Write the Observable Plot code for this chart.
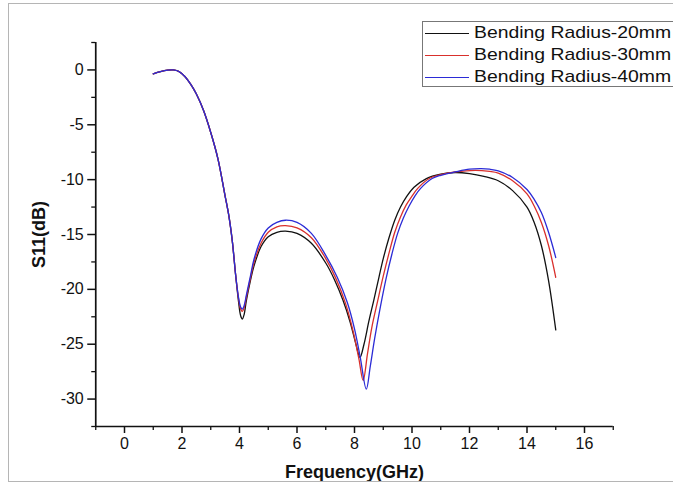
<!DOCTYPE html>
<html>
<head>
<meta charset="utf-8">
<script src="https://cdn.jsdelivr.net/npm/d3@7"></script>
<script src="https://cdn.jsdelivr.net/npm/@observablehq/plot@0.6"></script>
<style>
  html, body { margin: 0; padding: 0; background: #fff; }
  #wrap { position: relative; width: 673px; height: 484px; overflow: hidden; font-family: "Liberation Sans", Arial, sans-serif; }
  #border { position: absolute; left: 8px; top: 3px; right: -5px; bottom: 2px; border: 1px solid #b5b5b5; pointer-events: none; }
  #legend { position: absolute; left: 422px; top: 21px; height: 64px; right: -10px; border: 1px solid #777; background: #fff; }
  .row { position: absolute; left: 0; height: 22px; }
  .swatch { position: absolute; left: 2px; width: 44px; height: 0; border-top: 1.4px solid #000; top: 11px; }
  .lab { position: absolute; left: 51px; top: 0; font-size: 17px; line-height: 22px; white-space: nowrap; transform: scaleX(1.14); transform-origin: left center; color: #111; }
  svg g[aria-label="x-axis label"] text, svg g[aria-label="y-axis label"] text { font-weight: bold; font-size: 18px; }
</style>
</head>
<body>
<div id="wrap"></div>
<script>
// ---- data ----
const seriesNames = ["Bending Radius-20mm", "Bending Radius-30mm", "Bending Radius-40mm"];
const seriesColors = ["#111111", "#d9302c", "#2b2bd6"];

const xMajorTicks = [0, 2, 4, 6, 8, 10, 12, 14, 16];
const xMinorTicks = [-1, 1, 3, 5, 7, 9, 11, 13, 15, 17];
const yMajorTicks = [0, -5, -10, -15, -20, -25, -30];
const yMinorTicks = [2.5, -2.5, -7.5, -12.5, -17.5, -22.5, -27.5, -32.5];
const xDomain = [-1, 17];
const yDomain = [-32.5, 2.5];

// shared low-frequency part (all three curves coincide)
const commonFreq = [1.0, 1.25, 1.5, 1.7, 1.9, 2.1, 2.3, 2.5, 2.75, 3.0, 3.25, 3.5, 3.63, 3.75, 3.87];
const commonS11  = [-0.35, -0.15, -0.02, 0.0, -0.15, -0.6, -1.3, -2.2, -3.7, -5.7, -8.1, -11.5, -13.3, -15.6, -18.8];

const freq20 = [3.97, 4.04, 4.1, 4.16, 4.24, 4.38, 4.5, 4.75, 5.0, 5.3, 5.6, 6.0, 6.5, 7.0, 7.3, 7.6, 7.85, 8.05, 8.19, 8.33, 8.5, 8.67, 8.85, 9.0, 9.2, 9.4, 9.6, 9.8, 10.07, 10.5, 11.0, 11.5, 12.0, 12.5, 13.0, 13.5, 14.0, 14.25, 14.5, 14.75, 15.0];
const s11_20 = [-21.2, -22.4, -22.7, -22.3, -21.0, -19.2, -17.9, -16.1, -15.2, -14.8, -14.7, -14.9, -15.8, -17.6, -19.1, -21.0, -23.0, -25.0, -26.2, -25.0, -22.9, -21.0, -18.9, -17.2, -15.3, -13.7, -12.5, -11.6, -10.7, -9.9, -9.5, -9.35, -9.45, -9.7, -10.1, -11.0, -12.5, -13.9, -16.0, -19.2, -23.7];

const freq30 = [3.97, 4.04, 4.1, 4.16, 4.24, 4.38, 4.5, 4.75, 5.0, 5.3, 5.6, 6.0, 6.5, 7.0, 7.35, 7.69, 7.95, 8.15, 8.3, 8.45, 8.6, 8.81, 9.0, 9.2, 9.4, 9.6, 9.8, 10.0, 10.2, 10.6, 11.0, 11.5, 12.2, 12.7, 13.0, 13.5, 14.0, 14.25, 14.5, 14.75, 15.0];
const s11_30 = [-20.9, -21.8, -22.0, -21.7, -20.7, -19.0, -17.6, -15.8, -14.8, -14.3, -14.2, -14.4, -15.3, -17.2, -19.0, -21.3, -23.8, -26.3, -28.3, -25.9, -23.5, -21.0, -18.8, -16.7, -14.8, -13.4, -12.3, -11.5, -10.8, -9.9, -9.55, -9.3, -9.15, -9.25, -9.4, -10.1, -11.3, -12.4, -13.9, -16.0, -18.9];

const freq40 = [3.97, 4.04, 4.1, 4.16, 4.24, 4.38, 4.5, 4.75, 5.0, 5.3, 5.6, 6.0, 6.5, 7.0, 7.4, 7.75, 8.0, 8.2, 8.41, 8.55, 8.7, 8.9, 9.1, 9.3, 9.5, 9.7, 9.9, 10.1, 10.3, 10.7, 11.0, 11.5, 12.0, 12.4, 12.7, 13.0, 13.5, 14.0, 14.25, 14.5, 14.75, 15.0];
const s11_40 = [-20.8, -21.6, -21.8, -21.5, -20.5, -18.8, -17.3, -15.4, -14.4, -13.9, -13.7, -13.9, -14.9, -16.9, -18.9, -21.2, -23.6, -26.2, -29.1, -27.0, -24.5, -21.6, -19.0, -16.8, -14.9, -13.5, -12.4, -11.5, -10.8, -9.9, -9.6, -9.3, -9.05, -9.0, -9.05, -9.2, -9.8, -10.9, -11.8, -13.0, -14.8, -17.1];

// ---- build table ----
const seriesFreq = [freq20, freq30, freq40];
const seriesS11 = [s11_20, s11_30, s11_40];
const rows = [];
seriesNames.forEach((name, i) => {
  commonFreq.forEach((f, j) => rows.push({series: name, f, s: commonS11[j]}));
  seriesFreq[i].forEach((f, j) => rows.push({series: name, f, s: seriesS11[i][j]}));
});

const fmt = d => String(d);

const chart = Plot.plot({
  width: 673,
  height: 484,
  marginLeft: 95.25,
  marginRight: 60.25,
  marginTop: 42,
  marginBottom: 58,
  style: {fontFamily: "'Liberation Sans', Arial, sans-serif", background: "transparent", color: "#111"},
  x: {domain: xDomain},
  y: {domain: yDomain},
  color: {domain: seriesNames, range: seriesColors},
  marks: [
    Plot.axisX({ticks: xMinorTicks, tickSize: 4, tickFormat: () => "", label: null, strokeWidth: 1.3}),
    Plot.axisX({ticks: xMajorTicks, tickSize: 7, tickPadding: 4, fontSize: 16, tickFormat: fmt, strokeWidth: 1.5,
      label: "Frequency(GHz)", labelArrow: "none", labelAnchor: "center", labelOffset: 51}),
    Plot.axisY({ticks: yMinorTicks, tickSize: 4, tickFormat: () => "", label: null, strokeWidth: 1.3}),
    Plot.axisY({ticks: yMajorTicks, tickSize: 8, tickPadding: 4, fontSize: 16, tickFormat: fmt, strokeWidth: 1.5,
      label: "S11(dB)", labelArrow: "none", labelAnchor: "center", labelOffset: 64}),
    Plot.ruleX([xDomain[0]], {stroke: "#111", strokeWidth: 1.7}),
    Plot.ruleY([yDomain[0]], {stroke: "#111", strokeWidth: 1.7}),
    Plot.line(rows, {x: "f", y: "s", z: "series", stroke: "series", strokeWidth: 1.3, curve: "catmull-rom"})
  ]
});

const wrap = document.getElementById("wrap");
wrap.appendChild(chart);
chart.style.position = "absolute";
chart.style.left = "0";
chart.style.top = "0";

const border = document.createElement("div");
border.id = "border";
wrap.appendChild(border);

const legend = document.createElement("div");
legend.id = "legend";
seriesNames.forEach((name, i) => {
  const r = document.createElement("div");
  r.className = "row";
  r.style.top = (-0.5 + i * 22.2) + "px";
  r.style.width = "260px";
  const sw = document.createElement("div");
  sw.className = "swatch";
  sw.style.borderTopColor = seriesColors[i];
  const lab = document.createElement("div");
  lab.className = "lab";
  lab.textContent = name;
  r.appendChild(sw);
  r.appendChild(lab);
  legend.appendChild(r);
});
wrap.appendChild(legend);
</script>
</body>
</html>
